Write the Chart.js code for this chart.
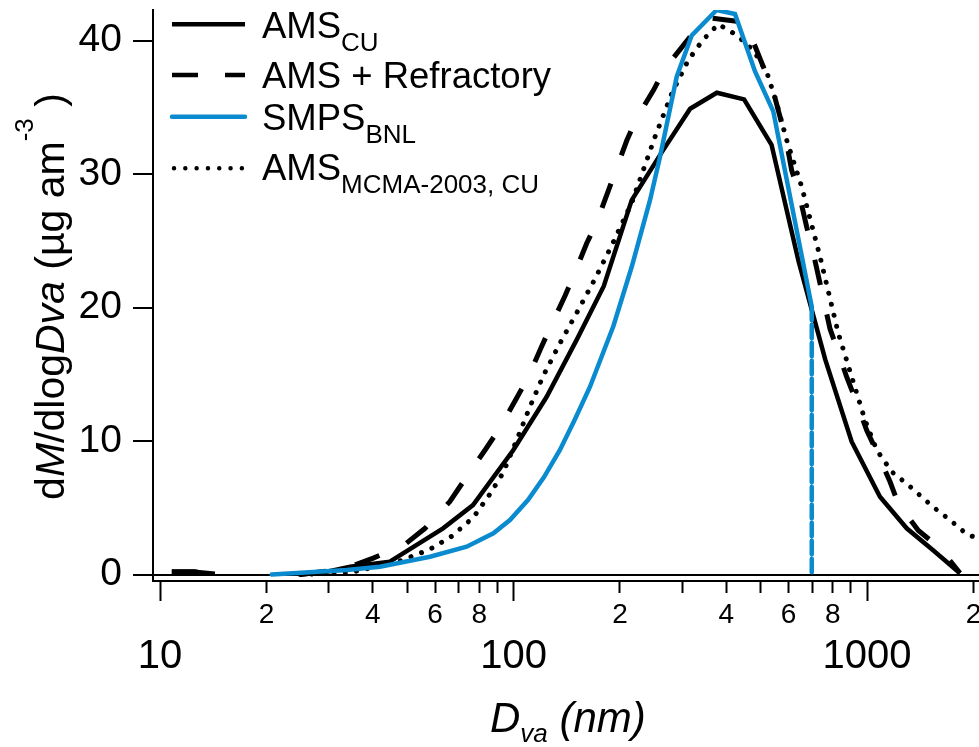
<!DOCTYPE html>
<html><head><meta charset="utf-8">
<script src="https://cdn.jsdelivr.net/npm/chart.js@4"></script>
<style>html,body{margin:0;padding:0;background:#fff;overflow:hidden}canvas{display:block}</style>
</head><body>
<canvas id="c" width="979" height="747"></canvas>
<script>
const FONT = '"Liberation Sans", Arial, Helvetica, sans-serif';
const BLUE = '#0b8bcf';

// AMS_CU (solid black)
const dAmsCu = [10.8, 12.5, 14.3, 19.0, 24.9, 29.0, 34.5, 44.7, 63.2, 76.8, 99.9, 124, 151, 180, 216, 265, 316, 376, 449, 537, 640, 762, 905, 1088, 1295, 1541, 1832];
const mAmsCu = [0.2, 0.2, 0.05, null, 0.0, 0.15, 0.58, 0.96, 3.46, 5.2, 9.33, 13.3, 17.6, 21.6, 28.05, 31.8, 34.9, 36.1, 35.6, 32.2, 23.5, 16.1, 9.95, 5.83, 3.46, 1.8, 0.1];

// AMS + Refractory (dashed black)
const dAmsRef = [10.8, 12.5, 14.3, 19.0, 24.9, 29.0, 34.5, 40.1, 48.8, 56.2, 66.1, 72.9, 83.1, 91.6, 102, 110, 120, 128, 140, 149, 161, 172, 209, 223, 249, 268, 316, 360, 447, 472, 515, 543, 574, 593, 612, 639, 675, 698, 786, 821, 876, 925, 998, 1066, 1162, 1226, 1397, 1609, 1832];
const mAmsRef = [0.2, 0.2, 0.05, null, 0.0, 0.22, 0.58, 1.23, 2.16, 3.46, 5.47, 7.15, 9.33, 11.0, 13.2, 14.8, 17.06, 18.7, 20.9, 22.6, 24.8, 26.4, 32.5, 34.2, 36.3, 37.9, 40.3, 41.7, 41.4, 40.2, 37.7, 36.2, 33.8, 32.3, 30.3, 28.8, 26.05, 24.6, 18.4, 17.0, 14.8, 13.2, 10.8, 9.2, 6.95, 5.3, 3.3, 1.96, 0.1];

// SMPS_BNL (blue)
const dSmps = [20.7, 33.75, 41.9, 58.05, 73.7, 87.7, 97.7, 110, 122, 135.3, 149, 164.6, 191.6, 216, 243.3, 259.7, 289.5, 319.3, 375.6, 423.2, 482.2, 543.1, 697.7, 697.7];
const mSmps = [0.0, 0.34, 0.58, 1.33, 2.08, 3.09, 4.08, 5.6, 7.3, 9.33, 11.6, 14.07, 18.6, 23.06, 28.05, 31.3, 37.3, 40.4, 42.3, 42.0, 37.7, 34.7, 20.06, 0.0];

// AMS_MCMA-2003, CU (dotted black)
const dMcma = [24.9, 34.5, 47.2, 58.05, 67.0, 77.0, 85.4, 93.25, 102.1, 110.8, 121.4, 135.3, 151.9, 170.1, 189.6, 216, 251.3, 280.3, 312.2, 343, 379.6, 427.9, 476.9, 520.3, 555.4, 592.7, 653.6, 736.5, 829.6, 905, 987, 1065, 1175, 1309, 1535, 1717, 1927, 2074];
const mMcma = [0.0, 0.15, 0.96, 1.89, 2.88, 4.28, 5.96, 7.58, 10.07, 12.45, 14.89, 17.32, 19.74, 22.16, 24.66, 27.85, 32.79, 36.04, 38.54, 40.04, 41.24, 40.41, 39.29, 37.66, 35.3, 32.55, 29.05, 23.81, 18.07, 14.82, 11.57, 9.33, 7.70, 6.70, 5.08, 4.08, 2.96, 2.73];

const xTickValues = [10,20,30,40,50,60,70,80,90,100,200,300,400,500,600,700,800,900,1000,2000];
const xLabelMantissas = [2,4,6,8];
const yTickValues = [0,10,20,30,40];
const X_MIN = 9.554, X_MAX = 2074;
const Y_MIN = -0.487, Y_MAX = 42.30;

const pts = (d, m) => d.map((x, i) => ({x: x, y: m[i]}));
const mant = v => { const e = Math.floor(Math.log10(v) + 1e-9); return Math.round(v / Math.pow(10, e)); };
const isMajor = v => mant(v) === 1;

function drawRich(ctx, parts, x, y) {
  for (const p of parts) {
    ctx.font = (p.italic ? 'italic ' : '') + p.size + 'px ' + FONT;
    ctx.fillText(p.t, x, y + (p.dy || 0));
    x += ctx.measureText(p.t).width;
  }
  return x;
}
function richWidth(ctx, parts) {
  let w = 0;
  for (const p of parts) { ctx.font = (p.italic ? 'italic ' : '') + p.size + 'px ' + FONT; w += ctx.measureText(p.t).width; }
  return w;
}

const overlay = {
  id: 'overlay',
  afterDraw(chart) {
    const ctx = chart.ctx;
    ctx.save();
    ctx.fillStyle = '#000';
    ctx.textAlign = 'left';
    ctx.textBaseline = 'alphabetic';
    // legend
    const entries = [
      {ly: 24.3, color: '#000', dash: [], cap: 'butt', lw: 4.5, base: 38, text: [{t:'AMS', size:36.5}, {t:'CU', size:26, dy:13}]},
      {ly: 75, color: '#000', dash: [26, 27], cap: 'butt', lw: 4.5, base: 88, text: [{t:'AMS + Refractory', size:36.5}]},
      {ly: 116.7, color: BLUE, dash: [], cap: 'round', lw: 4.5, base: 130, text: [{t:'SMPS', size:36.5}, {t:'BNL', size:26, dy:13}]},
      {ly: 168.3, color: '#000', dash: [0.01, 11.3], cap: 'round', lw: 4.5, base: 180, text: [{t:'AMS', size:36.5}, {t:'MCMA-2003, CU', size:26, dy:13}]}
    ];
    for (const e of entries) {
      ctx.beginPath();
      ctx.strokeStyle = e.color; ctx.lineWidth = e.lw; ctx.lineCap = e.cap;
      ctx.setLineDash(e.dash);
      const x0 = e.cap === 'round' && e.dash.length ? 174 : 172;
      ctx.moveTo(x0, e.ly); ctx.lineTo(245, e.ly); ctx.stroke();
      ctx.setLineDash([]);
      drawRich(ctx, e.text, 262, e.base);
    }
    // y title
    const yParts = [
      {t:'d', size:41}, {t:'M', size:41, italic:true}, {t:'/dlog', size:41}, {t:'Dva', size:41, italic:true},
      {t:' (µg am', size:41}, {t:'-3', size:26, dy:-31}, {t:' )', size:41}
    ];
    const yw = richWidth(ctx, yParts);
    ctx.save();
    ctx.translate(64, 296.5);
    ctx.rotate(-Math.PI / 2);
    drawRich(ctx, yParts, -yw / 2, 0);
    ctx.restore();
    // x title
    drawRich(ctx, [{t:'D', size:42, italic:true}, {t:'va', size:26, italic:true, dy:10}, {t:' (nm)', size:42, italic:true}], 490, 731.7);
    ctx.restore();
  }
};

new Chart(document.getElementById('c'), {
  type: 'line',
  data: {
    datasets: [
      {label: 'SMPS_BNL', data: pts(dSmps, mSmps), borderColor: BLUE, borderWidth: 4.5, pointRadius: 0, order: 0,
       borderCapStyle: 'round',
       segment: {borderDash: c => c.p1DataIndex === dSmps.length - 1 ? [8, 10] : undefined}},
      {label: 'AMS_CU', data: pts(dAmsCu, mAmsCu), borderColor: '#000', borderWidth: 4.5, pointRadius: 0, order: 1},
      {label: 'AMS + Refractory', data: pts(dAmsRef, mAmsRef), borderColor: '#000', borderWidth: 5, pointRadius: 0, order: 2,
       borderDash: [26, 30]},
      {label: 'AMS_MCMA-2003, CU', data: pts(dMcma, mMcma), borderColor: '#000', borderWidth: 5, pointRadius: 0, order: 3,
       borderDash: [0.01, 11.3], borderCapStyle: 'round'}
    ]
  },
  options: {
    responsive: false, animation: false, devicePixelRatio: 1,
    layout: {padding: {top: 10, left: 0, right: 0, bottom: 0}},
    plugins: {legend: {display: false}, tooltip: {enabled: false}},
    scales: {
      x: {
        type: 'logarithmic', position: 'bottom', min: X_MIN, max: X_MAX,
        afterBuildTicks: s => { s.ticks = xTickValues.map(v => ({value: v})); },
        afterFit: s => { s.height = 166; s.paddingLeft = 0; s.paddingRight = 0; },
        border: {display: true, color: '#000', width: 2},
        grid: {display: true, drawOnChartArea: false, drawTicks: true, tickLength: 20, tickWidth: 2,
               tickColor: '#000', color: '#000',
               tickBorderDash: c => (c.tick && isMajor(c.tick.value)) ? [] : [11, 100]},
        ticks: {
          autoSkip: false, maxRotation: 0, minRotation: 0, padding: 0, color: '#000',
          font: c => (c.tick && isMajor(c.tick.value)) ? {family: FONT, size: 40, lineHeight: 0.933} : {family: FONT, size: 28, lineHeight: 1.0},
          callback: v => {
            const m = mant(v);
            if (m === 1) return ['', String(v)];
            return xLabelMantissas.includes(m) ? String(m) : '';
          }
        }
      },
      y: {
        type: 'linear', min: Y_MIN, max: Y_MAX,
        afterBuildTicks: s => { s.ticks = yTickValues.map(v => ({value: v})); },
        afterFit: s => { s.width = 153; s.paddingTop = 0; s.paddingBottom = 0; },
        border: {display: true, color: '#000', width: 2},
        grid: {drawOnChartArea: true, drawTicks: true, tickLength: 20, tickWidth: 2, tickColor: '#000',
               lineWidth: 2, color: c => (c.tick && c.tick.value === 0) ? '#000' : 'rgba(0,0,0,0)'},
        ticks: {padding: 11, color: '#000', font: {family: FONT, size: 39}, callback: v => String(v)}
      }
    }
  },
  plugins: [overlay]
});
</script>
</body></html>
